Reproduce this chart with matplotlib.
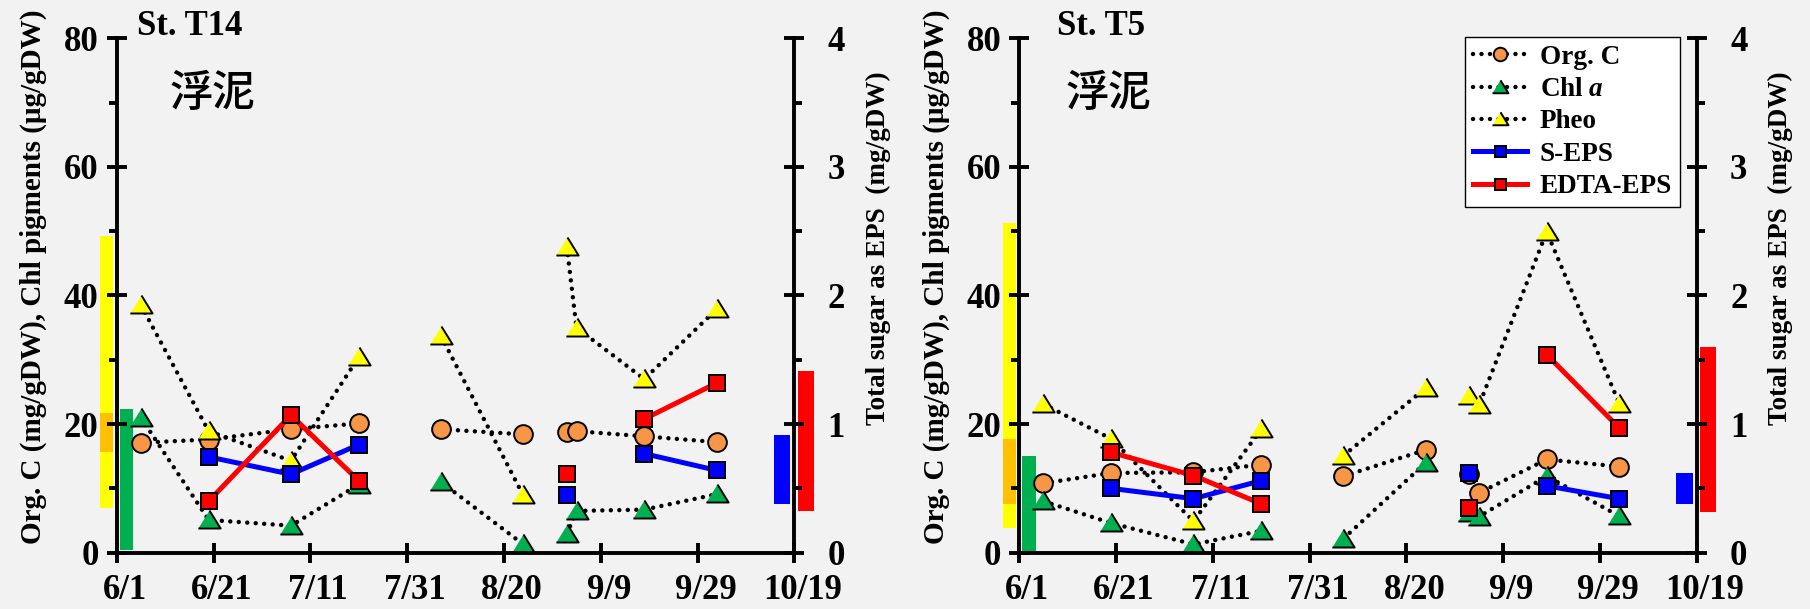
import numpy as np
import matplotlib
matplotlib.use('Agg')
import matplotlib.pyplot as plt
from matplotlib.transforms import ScaledTranslation

plt.rcParams['font.family'] = ['Liberation Serif', 'DejaVu Serif']
plt.rcParams['font.weight'] = 'bold'
plt.rcParams['mathtext.fontset'] = 'custom'
plt.rcParams['mathtext.rm'] = 'Liberation Serif:bold'
plt.rcParams['mathtext.it'] = 'Liberation Serif:italic:bold'

# x axis: days counted from 6/1
tick_days = [0, 20, 40, 60, 80, 100, 120, 140]
tick_labels = ['6/1', '6/21', '7/11', '7/31', '8/20', '9/9', '9/29', '10/19']

# sampling days; points with the same group number are joined
days = [5, 19, 36, 50, 67, 84, 93, 95, 109, 124]
groups = [0, 0, 0, 0, 1, 1, 2, 2, 2, 2]
eps_days = [19, 36, 50, 93, 109, 124]
eps_groups = [0, 0, 0, 1, 2, 2]

# St. T14
t14_orgc = [17.1, 17.6, 19.2, 20.1, 19.2, 18.4, 18.8, 18.9, 18.1, 17.2]
t14_chla = [21.0, 5.1, 4.2, 10.6, 11.0, 1.3, 2.9, 6.5, 6.7, 9.1]
t14_pheo = [38.5, 18.9, 14.3, 30.4, 33.7, 8.9, 47.6, 35.0, 27.0, 37.9]
t14_seps = [0.745, 0.61, 0.84, 0.45, 0.77, 0.64]
t14_edta = [0.40, 1.07, 0.56, 0.61, 1.04, 1.32]
# ranges (min, max) shown as bars beside the axes
t14_pheo_rng = [7.0, 49.3]
t14_orgc_rng = [15.6, 21.8]
t14_chla_rng = [0.4, 22.4]
t14_seps_rng = [0.375, 0.914]
t14_edta_rng = [0.324, 1.413]

# St. T5
t5_orgc = [10.8, 12.4, 12.5, 13.7, 11.9, 16.0, 12.2, 9.3, 14.5, 13.4]
t5_chla = [8.0, 4.6, 1.3, 3.4, 2.2, 14.0, 6.2, 5.6, 11.9, 5.7]
t5_pheo = [23.1, 17.7, 4.9, 19.2, 15.1, 25.6, 24.3, 22.9, 49.9, 23.2]
t5_seps = [0.50, 0.42, 0.56, 0.62, 0.52, 0.42]
t5_edta = [0.78, 0.60, 0.38, 0.35, 1.54, 0.97]
t5_pheo_rng = [3.9, 51.3]
t5_orgc_rng = [7.6, 17.7]
t5_chla_rng = [0.1, 15.1]
t5_seps_rng = [0.375, 0.617]
t5_edta_rng = [0.32, 1.60]

BG = '#F2F2F2'
ORANGE = '#F79646'
GREEN = '#00B050'
YELLOW = '#FFFF00'
tri = [(-1, -0.72), (1, -0.72), (0, 0.9)]
dot_kw = dict(color='black', lw=3.2, linestyle=(0, (0.01, 1.9)),
              dash_capstyle='round', mec='black', mew=1.4)
eps_kw = dict(lw=3.6, marker='s', ms=11, mec='black', mew=1.4)


def plot_grouped(ax, x, y, grp, label, **kw):
    x, y, grp = np.asarray(x), np.asarray(y), np.asarray(grp)
    line = None
    for g in np.unique(grp):
        m = grp == g
        l, = ax.plot(x[m], y[m], **kw)
        if line is None:
            line = l
            line.set_label(label)
    return line


def panel(rect, title, orgc, chla, pheo, seps, edta,
          pheo_rng, orgc_rng, chla_rng, seps_rng, edta_rng, legend=False):
    ax = fig.add_axes(rect)
    ax.set_facecolor('none')
    ax.set_xlim(0, 140)
    ax.set_ylim(0, 80)

    # range bars
    ax.bar(-2.05, pheo_rng[1] - pheo_rng[0], 2.7, bottom=pheo_rng[0],
           color=YELLOW, clip_on=False, zorder=1)
    ax.bar(-2.05, orgc_rng[1] - orgc_rng[0], 2.7, bottom=orgc_rng[0],
           color='#FFC000', clip_on=False, zorder=1)
    ax.bar(2.0, chla_rng[1] - chla_rng[0], 2.7, bottom=chla_rng[0],
           color=GREEN, clip_on=False, zorder=1)

    h1 = plot_grouped(ax, days, orgc, groups, 'Org. C', marker='o', ms=13.5,
                      mfc=ORANGE, **dot_kw)
    h2 = plot_grouped(ax, days, chla, groups, 'Chl $\\mathit{a}$', marker=tri,
                      ms=16, mfc=GREEN, **dot_kw)
    h3 = plot_grouped(ax, days, pheo, groups, 'Pheo', marker=tri, ms=16,
                      mfc=YELLOW, **dot_kw)

    ax2 = ax.twinx()
    ax2.set_ylim(0, 4)
    ax2.bar(137.45, seps_rng[1] - seps_rng[0], 3.4, bottom=seps_rng[0],
            color='#0000FF', clip_on=False, zorder=1)
    ax2.bar(142.35, edta_rng[1] - edta_rng[0], 3.3, bottom=edta_rng[0],
            color='#FF0000', clip_on=False, zorder=1)
    h4 = plot_grouped(ax2, eps_days, seps, eps_groups, 'S-EPS', color='#0000FF',
                      mfc='#0000FF', **eps_kw)
    h5 = plot_grouped(ax2, eps_days, edta, eps_groups, 'EDTA-EPS', color='#FF0000',
                      mfc='#FF0000', **eps_kw)

    for s in ['top', 'right']:
        ax.spines[s].set_visible(False)
    for s in ['top', 'left', 'bottom']:
        ax2.spines[s].set_visible(False)
    for sp in [ax.spines['left'], ax.spines['bottom'], ax2.spines['right']]:
        sp.set_linewidth(2.8)

    ax.set_xticks(tick_days)
    ax.set_xticklabels(tick_labels)
    ax.set_yticks([0, 20, 40, 60, 80])
    ax.set_yticks([10, 30, 50, 70], minor=True)
    ax2.set_yticks([0, 1, 2, 3, 4])
    ax2.set_yticks([0.5, 1.5, 2.5, 3.5], minor=True)
    ax.tick_params(axis='x', direction='inout', length=14, width=2.8,
                   labelsize=25, pad=8)
    ax.tick_params(axis='y', which='major', direction='inout', length=14,
                   width=2.8, labelsize=25, pad=6)
    ax.tick_params(axis='y', which='minor', direction='out', length=5.5, width=2.8)
    ax2.tick_params(axis='y', which='major', direction='inout', length=14,
                    width=2.8, labelsize=25, pad=17)
    ax2.tick_params(axis='y', which='minor', direction='out', length=5.5, width=2.8)
    shift = ScaledTranslation(0.08, 0, fig.dpi_scale_trans)
    for lab in ax.get_xticklabels():
        lab.set_transform(lab.get_transform() + shift)

    ax.text(-0.123, 0.536, 'Org. C (mg/gDW), Chl pigments (\u03bcg/gDW)',
            transform=ax.transAxes, rotation=90, ha='center', va='center',
            fontsize=21)
    ax.text(1.1235, 0.592, 'Total sugar as EPS  (mg/gDW)',
            transform=ax.transAxes, rotation=90, ha='center', va='center',
            fontsize=19.5)
    ax.text(title[1], 1.0064, title[0], transform=ax.transAxes,
            ha='left', va='baseline', fontsize=25)
    ax.text(title[2], 0.892, '浮泥', transform=ax.transAxes, ha='left',
            va='center', fontsize=31, fontweight='medium',
            family=['Noto Sans CJK JP', 'DejaVu Sans'])

    if legend:
        leg = ax2.legend(handles=[h1, h2, h3, h4, h5], loc='upper right',
                         bbox_to_anchor=(0.9754, 1.0031), borderaxespad=0,
                         fontsize=19.5, frameon=True, fancybox=False,
                         edgecolor='black', framealpha=1, facecolor='white',
                         handlelength=2.0, handletextpad=0.45,
                         labelspacing=0.27, borderpad=0.3, markerscale=0.72)
        leg.get_frame().set_linewidth(1.0)
        leg.set_zorder(10)
    return ax, ax2


fig = plt.figure(figsize=(18.1, 6.09), dpi=100, facecolor=BG)

panel([0.06448, 0.09245, 0.37436, 0.84466], ('St. T14', 0.030, 0.0787),
      t14_orgc, t14_chla, t14_pheo, t14_seps, t14_edta,
      t14_pheo_rng, t14_orgc_rng, t14_chla_rng, t14_seps_rng, t14_edta_rng)
panel([0.56315, 0.09245, 0.37425, 0.84466], ('St. T5', 0.0557, 0.069),
      t5_orgc, t5_chla, t5_pheo, t5_seps, t5_edta,
      t5_pheo_rng, t5_orgc_rng, t5_chla_rng, t5_seps_rng, t5_edta_rng,
      legend=True)

fig.savefig('out.png', dpi=100, facecolor=BG)
